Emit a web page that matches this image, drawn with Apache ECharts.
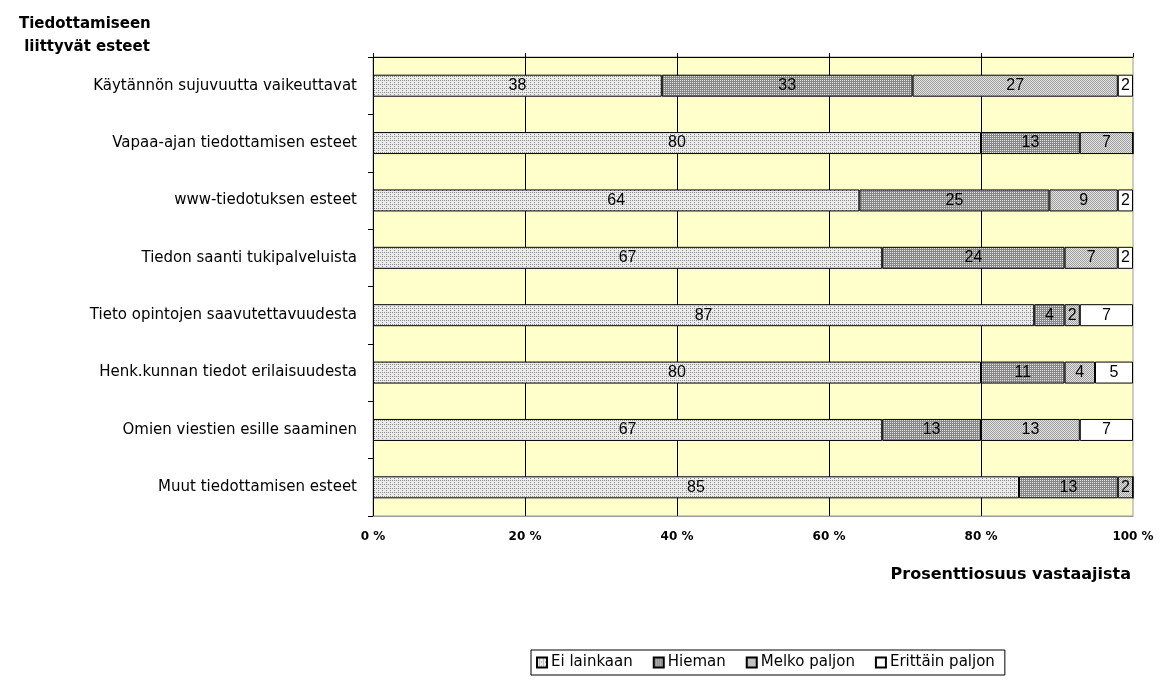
<!DOCTYPE html>
<html>
<head>
<meta charset="utf-8">
<script src="https://cdn.jsdelivr.net/npm/echarts@6/dist/echarts.min.js"></script>
<style>
  html, body { margin: 0; padding: 0; background: #fff; }
  #chart { width: 1173px; height: 686px; }
</style>
</head>
<body>
<div id="chart"></div>
<script>
// categories top to bottom
const categories = [
  'Käytännön sujuvuutta vaikeuttavat',
  'Vapaa-ajan tiedottamisen esteet',
  'www-tiedotuksen esteet',
  'Tiedon saanti tukipalveluista',
  'Tieto opintojen saavutettavuudesta',
  'Henk.kunnan tiedot erilaisuudesta',
  'Omien viestien esille saaminen',
  'Muut tiedottamisen esteet'
];
const seriesNames = ['Ei lainkaan', 'Hieman', 'Melko paljon', 'Erittäin paljon'];
const eiLainkaan = [38, 80, 64, 67, 87, 80, 67, 85];
const hieman = [33, 13, 25, 24, 4, 11, 13, 13];
const melkoPaljon = [27, 7, 9, 7, 2, 4, 13, 2];
const erittainPaljon = [2, 0, 2, 2, 7, 5, 7, 0];
const xTicks = [0, 20, 40, 60, 80, 100];

// small dotted fills like the old spreadsheet patterns
function makePattern(bg, fg, size, dots) {
  const c = document.createElement('canvas');
  c.width = size; c.height = size;
  const ctx = c.getContext('2d');
  ctx.fillStyle = bg;
  ctx.fillRect(0, 0, size, size);
  ctx.fillStyle = fg;
  dots.forEach(d => ctx.fillRect(d[0], d[1], 1, 1));
  return { image: c, repeat: 'repeat' };
}

const fills = [
  makePattern('#ebebeb', '#8c8c8c', 4, [[0, 0], [2, 2], [2, 0]]),
  makePattern('#888888', '#e2e2e2', 2, [[0, 0]]),
  makePattern('#e2e2e2', '#a0a0a0', 2, [[0, 0], [1, 1]]),
  '#ffffff'
];

const dataSets = [eiLainkaan, hieman, melkoPaljon, erittainPaljon];

const chart = echarts.init(document.getElementById('chart'));

const series = seriesNames.map((name, i) => ({
  name: name,
  type: 'bar',
  stack: 'total',
  barWidth: 22,
  data: dataSets[i],
  itemStyle: {
    color: fills[i],
    borderColor: '#000',
    borderWidth: 1
  },
  label: {
    show: true,
    position: 'inside',
    color: '#000',
    fontFamily: 'Liberation Sans',
    fontSize: 16,
    formatter: p => (p.value ? p.value : '')
  }
}));

const option = {
  animation: false,
  backgroundColor: '#fff',
  title: [
    {
      text: 'Tiedottamiseen\n liittyvät esteet',
      left: 14,
      top: 8,
      textStyle: {
        fontFamily: 'DejaVu Sans',
        fontWeight: 'bold',
        fontSize: 15,
        lineHeight: 23,
        color: '#000'
      }
    },
    {
      text: 'Prosenttiosuus vastaajista',
      right: 37,
      top: 562,
      textStyle: {
        fontFamily: 'DejaVu Sans',
        fontWeight: 'bold',
        fontSize: 16,
        color: '#000'
      }
    }
  ],
  legend: {
    data: seriesNames,
    left: 531,
    top: 650,
    orient: 'horizontal',
    icon: 'rect',
    itemWidth: 10,
    itemHeight: 10,
    itemGap: 20,
    padding: [5, 10, 5, 5],
    borderColor: '#000',
    borderWidth: 1,
    borderRadius: 0,
    textStyle: {
      fontFamily: 'DejaVu Sans',
      fontSize: 15,
      color: '#000',
      padding: [0, 0, 0, -1]
    }
  },
  grid: {
    left: 373,
    right: 40,
    top: 57,
    bottom: 170,
    show: true,
    backgroundColor: '#ffffcc',
    borderColor: '#9a9a9a',
    borderWidth: 1
  },
  xAxis: [
    {
      type: 'value',
      position: 'bottom',
      min: xTicks[0],
      max: xTicks[xTicks.length - 1],
      interval: 20,
      axisLine: { show: true, lineStyle: { color: '#9a9a9a', width: 1 } },
      axisTick: { show: false },
      axisLabel: {
        margin: 15,
        color: '#000',
        fontFamily: 'DejaVu Sans',
        fontWeight: 'bold',
        fontSize: 12,
        formatter: v => v + ' %'
      },
      splitLine: {
        show: true,
        showMinLine: false,
        showMaxLine: false,
        lineStyle: { color: '#000', width: 1 }
      }
    },
    {
      type: 'value',
      position: 'top',
      min: xTicks[0],
      max: xTicks[xTicks.length - 1],
      interval: 20,
      axisLine: { show: true, lineStyle: { color: '#000', width: 1 } },
      axisTick: { show: true, length: 4, lineStyle: { color: '#000' } },
      axisLabel: { show: false },
      splitLine: { show: false }
    }
  ],
  yAxis: {
    type: 'category',
    data: categories,
    inverse: true,
    axisLine: { show: true, lineStyle: { color: '#000', width: 1 } },
    axisTick: { show: true, length: 5, lineStyle: { color: '#000' } },
    axisLabel: {
      margin: 16,
      color: '#000',
      fontFamily: 'DejaVu Sans',
      fontSize: 15
    },
    splitLine: { show: false }
  },
  series: series
};

chart.setOption(option);
</script>
</body>
</html>
